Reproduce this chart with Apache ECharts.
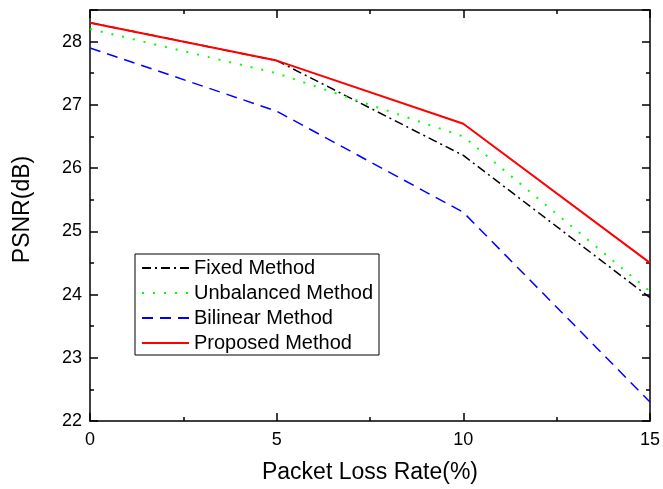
<!DOCTYPE html>
<html><head><meta charset="utf-8">
<script src="https://cdn.jsdelivr.net/npm/echarts@6/dist/echarts.min.js"></script>
<style>html,body{margin:0;padding:0;background:#fff}#c{width:663px;height:489px}</style>
</head><body><div id="c"></div>
<script>
var xValues = [0, 5, 10, 15];
var fixedMethod = [28.3, 27.7, 26.2, 23.95];
var unbalancedMethod = [28.2, 27.5, 26.5, 24.05];
var bilinearMethod = [27.9, 26.9, 25.3, 22.3];
var proposedMethod = [28.3, 27.7, 26.7, 24.5];
var seriesNames = ['Fixed Method', 'Unbalanced Method', 'Bilinear Method', 'Proposed Method'];

function pts(v){ return xValues.map(function(x,i){return [x, v[i]];}); }
var font = 'Liberation Sans, Arial, sans-serif';
function axisBase(show, margin){
  return {
    axisLine:{show:true, onZero:false, lineStyle:{color:'#000', width:1.5}},
    axisTick:{show:true, inside:true, length:8, lineStyle:{color:'#000', width:1.5}},
    minorTick:{show:true, splitNumber:2, length:4, lineStyle:{color:'#000', width:1.5}},
    splitLine:{show:false},
    axisLabel:{show:show, showMaxLabel:false, margin:margin, color:'#000', fontSize:18, fontFamily:font}
  };
}
var chart = echarts.init(document.getElementById('c'));
var xb = axisBase(true, 10), xt = axisBase(false, 8), yl = axisBase(true, 8), yr = axisBase(false, 8);
xb.axisLabel.showMaxLabel = true;
chart.setOption({
  animation:false,
  grid:{left:90, right:12, top:10, bottom:68},
  legend:{
    orient:'vertical', left:135, top:254,
    data:seriesNames,
    borderColor:'#000', borderWidth:1, padding:[4,6,2,6],
    itemWidth:47, itemHeight:20, itemGap:5,
    itemStyle:{opacity:0},
    textStyle:{color:'#000', fontSize:20, fontFamily:font}
  },
  xAxis:[
    Object.assign(xb,{type:'value', min:0, max:15, interval:5, position:'bottom',
      name:'Packet Loss Rate(%)', nameLocation:'middle', nameGap:40,
      nameTextStyle:{color:'#000', fontSize:23, fontFamily:font}}),
    Object.assign(xt,{type:'value', min:0, max:15, interval:5, position:'top'})
  ],
  yAxis:[
    Object.assign(yl,{type:'value', min:22, max:28.5, interval:1, position:'left',
      name:'PSNR(dB)', nameLocation:'middle', nameGap:56,
      nameTextStyle:{color:'#000', fontSize:23, fontFamily:font, padding:[0,0,0,12]}}),
    Object.assign(yr,{type:'value', min:22, max:28.5, interval:1, position:'right'})
  ],
  series:[
    {name:seriesNames[0], type:'line', data:pts(fixedMethod), symbol:'none', color:'#000',
      lineStyle:{color:'#000', width:1.5, type:[9,4,2,4]}},
    {name:seriesNames[1], type:'line', data:pts(unbalancedMethod), symbol:'none', color:'#00ff00',
      lineStyle:{color:'#00ff00', width:2, type:[2,9]}},
    {name:seriesNames[2], type:'line', data:pts(bilinearMethod), symbol:'none', color:'#0000ff',
      lineStyle:{color:'#0000ff', width:1.5, type:[11,7]}},
    {name:seriesNames[3], type:'line', data:pts(proposedMethod), symbol:'none', color:'#ff0000',
      lineStyle:{color:'#ff0000', width:2}}
  ]
});
</script></body></html>
